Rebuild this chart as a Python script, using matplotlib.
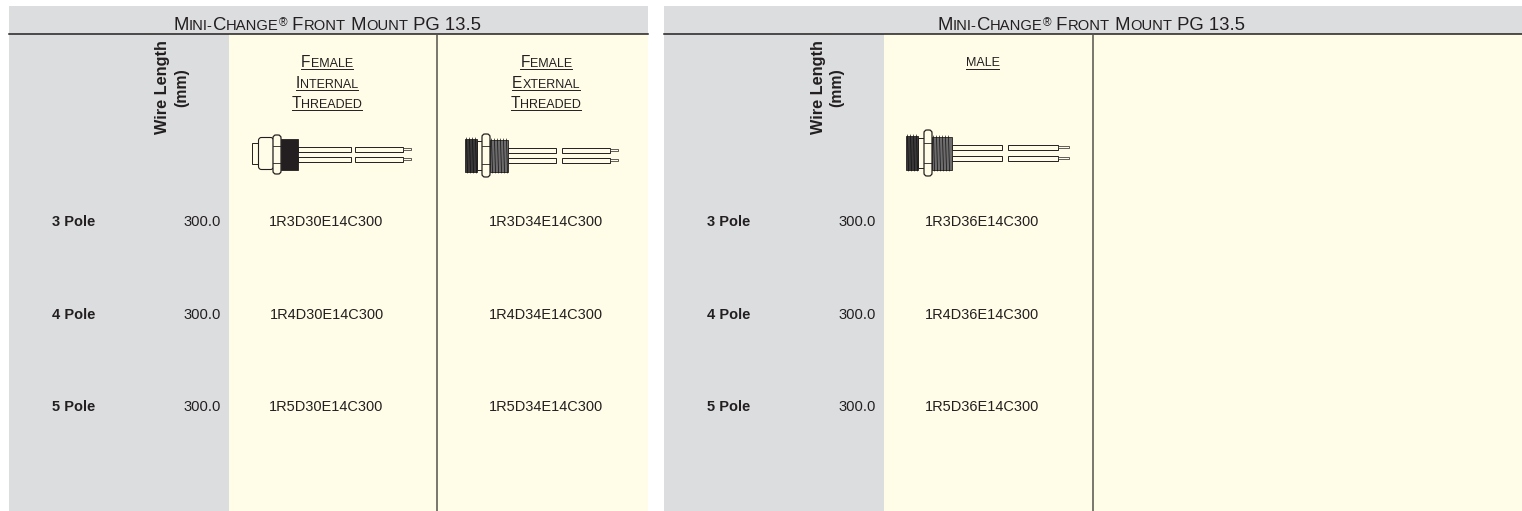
import matplotlib
matplotlib.use('Agg')
import matplotlib.pyplot as plt
from matplotlib.patches import Rectangle, FancyBboxPatch
from matplotlib.font_manager import FontProperties

W, H = 1522, 511
GRAY = '#dcddDF'
YELLOW = '#fffde7'
INK = '#231f20'

# table contents
title = 'Mini-Change® Front Mount PG 13.5'
poles = ['3 Pole', '4 Pole', '5 Pole']
wire_length = ['300.0', '300.0', '300.0']
female_internal = ['1R3D30E14C300', '1R4D30E14C300', '1R5D30E14C300']
female_external = ['1R3D34E14C300', '1R4D34E14C300', '1R5D34E14C300']
male = ['1R3D36E14C300', '1R4D36E14C300', '1R5D36E14C300']
row_y = [222, 315, 407]

plt.rcParams['font.family'] = ['Liberation Sans', 'DejaVu Sans']

fig = plt.figure(figsize=(W / 100, H / 100), dpi=100)
ax = fig.add_axes([0, 0, 1, 1])
ax.set_xlim(0, W)
ax.set_ylim(H, 0)
ax.axis('off')
renderer = fig.canvas.get_renderer()


def runs_of(s):
    # split a string into small caps runs of (text, kind)
    runs = []
    for ch in s:
        if ch == '®':
            kind = 'reg'
        elif ch.islower() or ch == '-':
            kind = 'small'
        else:
            kind = 'big'
        c = ch.upper()
        if runs and runs[-1][1] == kind:
            runs[-1][0] += c
        else:
            runs.append([c, kind])
    return runs


def smallcaps(cx, y, s, big, small, underline=False, color=INK):
    sizes = {'big': big, 'small': small, 'reg': small * 0.8}
    raises = {'big': 0, 'small': 0, 'reg': 4}
    widths = []
    pieces = runs_of(s)
    for text, kind in pieces:
        fp = FontProperties(family='Liberation Sans', size=sizes[kind])
        w = renderer.get_text_width_height_descent(text, fp, False)[0]
        widths.append(w)
    total = sum(widths)
    x = cx - total / 2
    for (text, kind), w in zip(pieces, widths):
        ax.text(x, y - raises[kind], text, fontsize=sizes[kind], color=color,
                ha='left', va='baseline')
        x += w
    if underline:
        ax.plot([cx - total / 2, cx + total / 2], [y + 2.5, y + 2.5], color=color, lw=0.7)


def wire(x0, x1, x2, x3, x4, y0, y1):
    # one cut wire with a bare tip
    ax.add_patch(Rectangle((x0, y0), x1 - x0, y1 - y0, fc=YELLOW, ec=INK, lw=0.7))
    ax.add_patch(Rectangle((x2, y0), x3 - x2, y1 - y0, fc=YELLOW, ec=INK, lw=0.7))
    ax.add_patch(Rectangle((x3, (y0 + y1) / 2 - 1), x4 - x3, 2, fc=YELLOW, ec=INK, lw=0.5))


def thread(x0, x1, y0, y1, color):
    ax.add_patch(Rectangle((x0, y0), x1 - x0, y1 - y0, fc=color, ec=INK, lw=0.6))
    for i in range(int(x1 - x0) // 3):
        xt = x0 + 1.5 + i * 3
        ax.plot([xt, xt + 1], [y0 - 1, y1 + 1], color='#111111', lw=0.5)


def nut(x0, x1, y0, y1):
    ax.add_patch(FancyBboxPatch((x0 + 1, y0 + 2), x1 - x0 - 2, y1 - y0 - 4,
                                boxstyle='round,pad=1,rounding_size=3',
                                fc=YELLOW, ec=INK, lw=0.9))
    ax.plot([x0, x1], [y0 + (y1 - y0) * 0.3] * 2, color=INK, lw=0.6)
    ax.plot([x0, x1], [y0 + (y1 - y0) * 0.7] * 2, color=INK, lw=0.6)


def wires(x0, x1, x2, x3, x4, top, bottom):
    wire(x0, x1, x2, x3, x4, top, top + 5)
    wire(x0, x1, x2, x3, x4, bottom, bottom + 5)


def panel(left, split, mid, right, cx_title, col_a, col_b):
    # backgrounds
    ax.add_patch(Rectangle((left, 6), right - left, 28, fc=GRAY, ec='none'))
    ax.add_patch(Rectangle((left, 34), split - left, H - 34, fc=GRAY, ec='none'))
    ax.add_patch(Rectangle((split, 34), right - split, H - 34, fc=YELLOW, ec='none'))
    ax.plot([left, right], [34, 34], color=INK, lw=1.1)
    ax.plot([mid, mid], [34, H], color='#55524c', lw=1.1)
    smallcaps(cx_title, 30.5, title, 13.3, 10.6)
    ax.text(split - 66, 87.5, 'Wire Length', rotation=90, fontsize=11.7, fontweight='bold',
            color=INK, ha='center', va='center')
    ax.text(split - 47, 87.5, '(mm)', rotation=90, fontsize=11.4, fontweight='bold',
            color=INK, ha='center', va='center')
    for i, y in enumerate(row_y):
        ax.text(left + 65, y, poles[i], fontsize=10.5, fontweight='bold', color=INK,
                ha='center', va='center')
        ax.text(split - 8, y, wire_length[i], fontsize=10.6, color=INK, ha='right', va='center')
        ax.text(col_a[0], y, col_a[1][i], fontsize=10.45, color=INK, ha='center', va='center')
        if col_b is not None:
            ax.text(col_b[0], y, col_b[1][i], fontsize=10.45, color=INK, ha='center', va='center')


panel(9, 229, 437, 648, 327.5, (326.5, female_internal), (546, female_external))
panel(664, 884, 1093, W, 1091.5, (982, male), None)

# column headings
for y, s in zip([67, 87.5, 107.5], ['Female', 'Internal', 'Threaded']):
    smallcaps(327, y, s, 11.2, 9, underline=True)
for y, s in zip([67, 87.5, 107.5], ['Female', 'External', 'Threaded']):
    smallcaps(546, y, s, 11.2, 9, underline=True)
smallcaps(982.5, 66.5, 'male', 11.2, 9, underline=True)

# female internal threaded connector
ax.add_patch(Rectangle((252, 143), 6, 21, fc=YELLOW, ec=INK, lw=0.7))
ax.add_patch(FancyBboxPatch((259, 138), 14, 31, boxstyle='round,pad=0.5,rounding_size=3',
                            fc=YELLOW, ec=INK, lw=0.8))
wires(298, 351, 355, 403, 411, 147, 157)
ax.add_patch(Rectangle((281, 139), 17, 31, fc='#231f20', ec=INK, lw=0.6))
nut(273, 281, 134, 175)

# female external threaded connector
ax.add_patch(Rectangle((477, 141), 6, 29, fc=YELLOW, ec=INK, lw=0.7))
wires(508, 556, 562, 610, 618, 148, 158)
thread(465, 477, 139, 172, '#3a3839')
thread(490, 508, 140, 172, '#6d6b6b')
nut(482, 490, 133, 178)

# male connector
ax.add_patch(Rectangle((918, 138), 7, 30, fc=YELLOW, ec=INK, lw=0.7))
wires(952, 1002, 1008, 1058, 1069, 145, 156)
thread(906, 918, 136, 170, '#3a3839')
thread(932, 952, 137, 170, '#6d6b6b')
nut(924, 932, 129, 177)

fig.savefig('out.png', dpi=100)
